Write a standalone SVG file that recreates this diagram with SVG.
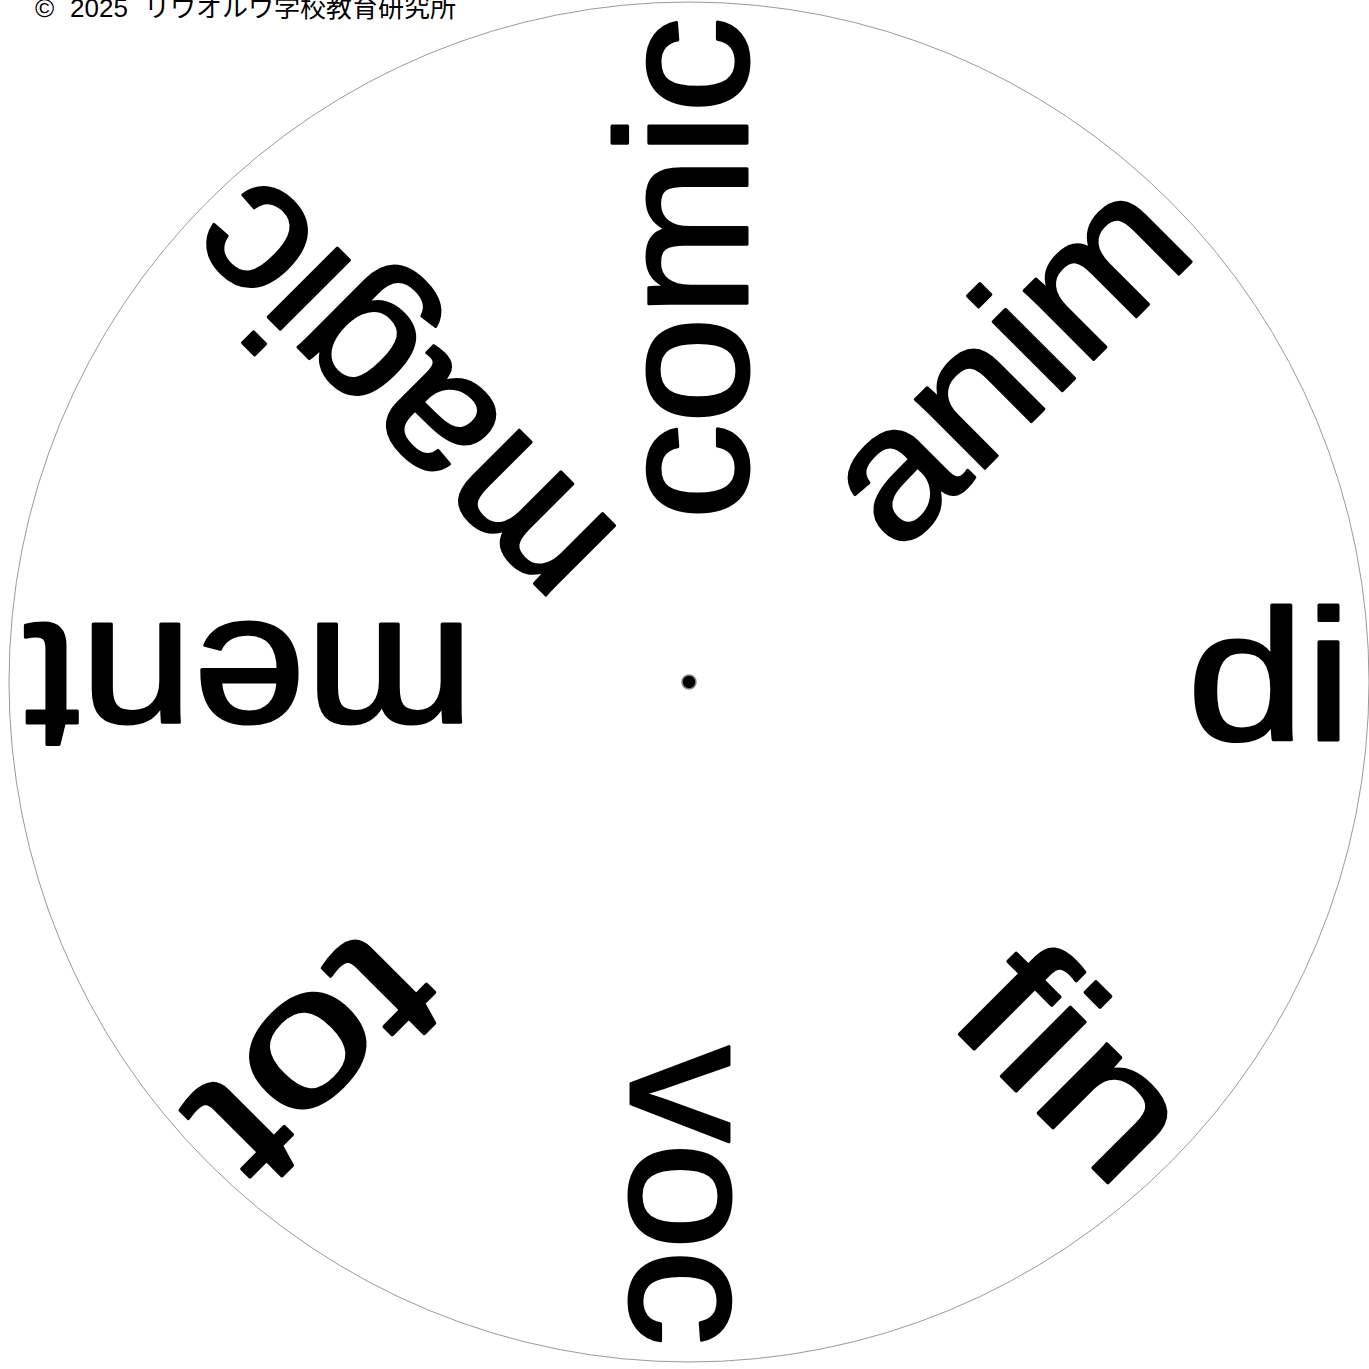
<svg xmlns="http://www.w3.org/2000/svg" width="1369" height="1369" viewBox="0 0 1369 1369">
  <style>
    .word { font-family: "Liberation Sans", Arial, sans-serif; font-size: 185px; fill: #000; stroke: #000; stroke-width: 3; stroke-linejoin: round; stroke-linecap: round; }
    .copy { font-family: "Liberation Sans", "Noto Sans CJK JP", sans-serif; font-size: 26px; fill: #000; }
  </style>
  <rect x="0" y="0" width="1369" height="1369" fill="#fff"/>
  <g id="wheel">
    <circle cx="689" cy="682" r="680" fill="none" stroke="#9a9a9a" stroke-width="1"/>
  </g>
  <g id="copyright">
    <text class="copy" y="17"><tspan x="35">©</tspan><tspan x="70">2025</tspan><tspan x="144">リウオルウ学校教育研究所</tspan></text>
  </g>
  <g id="center">
    <circle cx="689" cy="682" r="7" fill="#000" stroke="#888" stroke-width="1.5"/>
  </g>
  <g id="word-di" transform="rotate(0 689 682)">
    <text class="word" x="1187" y="740" textLength="165" lengthAdjust="spacingAndGlyphs">di</text>
  </g>
  <g id="word-anim" transform="rotate(-45 689 682)">
    <text class="word" x="926" y="740" textLength="428" lengthAdjust="spacingAndGlyphs">anim</text>
  </g>
  <g id="word-comic" transform="rotate(-90 689 682)">
    <text class="word" x="851" y="740" textLength="503" lengthAdjust="spacingAndGlyphs">comic</text>
  </g>
  <g id="word-magic" transform="rotate(-135 689 682)">
    <text class="word" x="839" y="740" textLength="515" lengthAdjust="spacingAndGlyphs">magic</text>
  </g>
  <g id="word-ment" transform="rotate(180 689 682)">
    <text class="word" x="904" y="740" textLength="450" lengthAdjust="spacingAndGlyphs">ment</text>
  </g>
  <g id="word-tot" transform="rotate(135 689 682)">
    <text class="word" x="1085" y="740" textLength="268" lengthAdjust="spacingAndGlyphs">tot</text>
  </g>
  <g id="word-voc" transform="rotate(90 689 682)">
    <text class="word" x="1053" y="740" textLength="300" lengthAdjust="spacingAndGlyphs">voc</text>
  </g>
  <g id="word-fin" transform="rotate(45 689 682)">
    <text class="word" x="1109" y="740" textLength="245" lengthAdjust="spacingAndGlyphs">fin</text>
  </g>
  <g id="connectors"/>
</svg>
